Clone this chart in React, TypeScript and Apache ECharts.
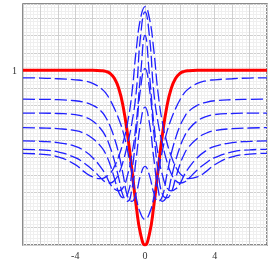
import React, { useEffect, useRef } from 'react';
import * as echarts from 'echarts';

const xs = [-7, -6, -5, -4, -3.5, -3, -2.5, -2.25, -2, -1.75, -1.5, -1.25, -1, -0.75, -0.5, -0.25, 0, 0.25, 0.5, 0.75, 1, 1.25, 1.5, 1.75, 2, 2.25, 2.5, 3, 3.5, 4, 5, 6, 7];

const redCurve = [1, 1, 1, 1, 1, 1, 0.998, 0.994, 0.982, 0.953, 0.895, 0.79, 0.632, 0.43, 0.221, 0.061, 0, 0.061, 0.221, 0.43, 0.632, 0.79, 0.895, 0.953, 0.982, 0.994, 0.998, 1, 1, 1, 1, 1, 1];
const blue1 = [0.957, 0.956, 0.952, 0.946, 0.94, 0.925, 0.895, 0.87, 0.83, 0.78, 0.72, 0.645, 0.54, 0.41, 0.27, 0.18, 0.147, 0.18, 0.27, 0.41, 0.54, 0.645, 0.72, 0.78, 0.83, 0.87, 0.895, 0.925, 0.94, 0.946, 0.952, 0.956, 0.957];
const blue2 = [0.835, 0.834, 0.832, 0.826, 0.817, 0.8, 0.765, 0.73, 0.68, 0.61, 0.52, 0.4, 0.28, 0.25, 0.3, 0.4, 0.45, 0.4, 0.3, 0.25, 0.28, 0.4, 0.52, 0.61, 0.68, 0.73, 0.765, 0.8, 0.817, 0.826, 0.832, 0.834, 0.835];
const blue3 = [0.755, 0.755, 0.753, 0.747, 0.735, 0.71, 0.66, 0.62, 0.56, 0.48, 0.38, 0.28, 0.25, 0.32, 0.5, 0.7, 0.79, 0.7, 0.5, 0.32, 0.25, 0.28, 0.38, 0.48, 0.56, 0.62, 0.66, 0.71, 0.735, 0.747, 0.753, 0.755, 0.755];
const blue4 = [0.672, 0.67, 0.666, 0.655, 0.64, 0.61, 0.56, 0.52, 0.46, 0.38, 0.3, 0.27, 0.29, 0.42, 0.65, 0.9, 1.01, 0.9, 0.65, 0.42, 0.29, 0.27, 0.3, 0.38, 0.46, 0.52, 0.56, 0.61, 0.64, 0.655, 0.666, 0.67, 0.672];
const blue5 = [0.596, 0.593, 0.586, 0.565, 0.54, 0.5, 0.44, 0.4, 0.35, 0.32, 0.31, 0.33, 0.4, 0.52, 0.7, 0.98, 1.2, 0.98, 0.7, 0.52, 0.4, 0.33, 0.31, 0.32, 0.35, 0.4, 0.44, 0.5, 0.54, 0.565, 0.586, 0.593, 0.596];
const blue6 = [0.548, 0.545, 0.533, 0.5, 0.47, 0.43, 0.38, 0.36, 0.355, 0.37, 0.41, 0.48, 0.58, 0.7, 0.88, 1.2, 1.335, 1.2, 0.88, 0.7, 0.58, 0.48, 0.41, 0.37, 0.355, 0.36, 0.38, 0.43, 0.47, 0.5, 0.533, 0.545, 0.548];
const blue7 = [0.525, 0.52, 0.505, 0.46, 0.42, 0.39, 0.38, 0.39, 0.41, 0.45, 0.51, 0.59, 0.7, 0.87, 1.12, 1.3, 1.365, 1.3, 1.12, 0.87, 0.7, 0.59, 0.51, 0.45, 0.41, 0.39, 0.38, 0.39, 0.42, 0.46, 0.505, 0.52, 0.525];

const blueCurves = [blue1, blue2, blue3, blue4, blue5, blue6, blue7];
const xTickLabels = [-4, 0, 4];
const yTickLabels = [1];

export default function App() {
  const ref = useRef<HTMLDivElement>(null);
  useEffect(() => {
    const chart = echarts.init(ref.current as HTMLDivElement, null, { renderer: 'svg' });
    const pair = (ys: number[]) => xs.map((x, i) => [x, ys[i]]);
    const series: any[] = [
      {
        type: 'line',
        data: pair(redCurve),
        smooth: 0.5,
        showSymbol: false,
        lineStyle: { color: '#ff0000', width: 3 },
        z: 2,
      },
      ...blueCurves.map((c) => ({
        type: 'line',
        data: pair(c),
        smooth: 0.5,
        showSymbol: false,
        lineStyle: { color: '#2020ff', width: 1.3, type: [12, 4] },
        z: 3,
      })),
    ];
    chart.setOption({
      animation: false,
      grid: { left: 23, right: 6, top: 4, bottom: 28, show: true, borderColor: '#666', borderWidth: 1.5, backgroundColor: '#fff' },
      xAxis: {
        type: 'value', min: -7, max: 7, interval: 1,
        axisLine: { show: false }, axisTick: { show: false },
        axisLabel: {
          formatter: (v: number) => (xTickLabels.some((t) => Math.abs(t - v) < 1e-6) ? String(Math.round(v)) : ''),
          color: '#333', fontFamily: 'Liberation Serif', fontSize: 10, margin: 5,
        },
        splitLine: { show: true, lineStyle: { color: '#cfcfcf', width: 1 } },
        minorTick: { show: false, splitNumber: 5 },
        minorSplitLine: { show: true, lineStyle: { color: '#efefef', width: 1 } },
      },
      yAxis: {
        type: 'value', min: 0, max: 1.38, interval: 0.1,
        axisLine: { show: false }, axisTick: { show: false },
        axisLabel: {
          formatter: (v: number) => (yTickLabels.some((t) => Math.abs(t - v) < 1e-6) ? String(Math.round(v)) : ''),
          color: '#333', fontFamily: 'Liberation Serif', fontSize: 10, margin: 6,
        },
        splitLine: { show: true, lineStyle: { color: '#cfcfcf', width: 1 } },
        minorTick: { show: false, splitNumber: 5 },
        minorSplitLine: { show: true, lineStyle: { color: '#efefef', width: 1 } },
      },
      series,
    });
    return () => chart.dispose();
  }, []);
  return <div ref={ref} style={{ position: 'fixed', left: 0, top: 0, width: 273, height: 273 }} />;
}
